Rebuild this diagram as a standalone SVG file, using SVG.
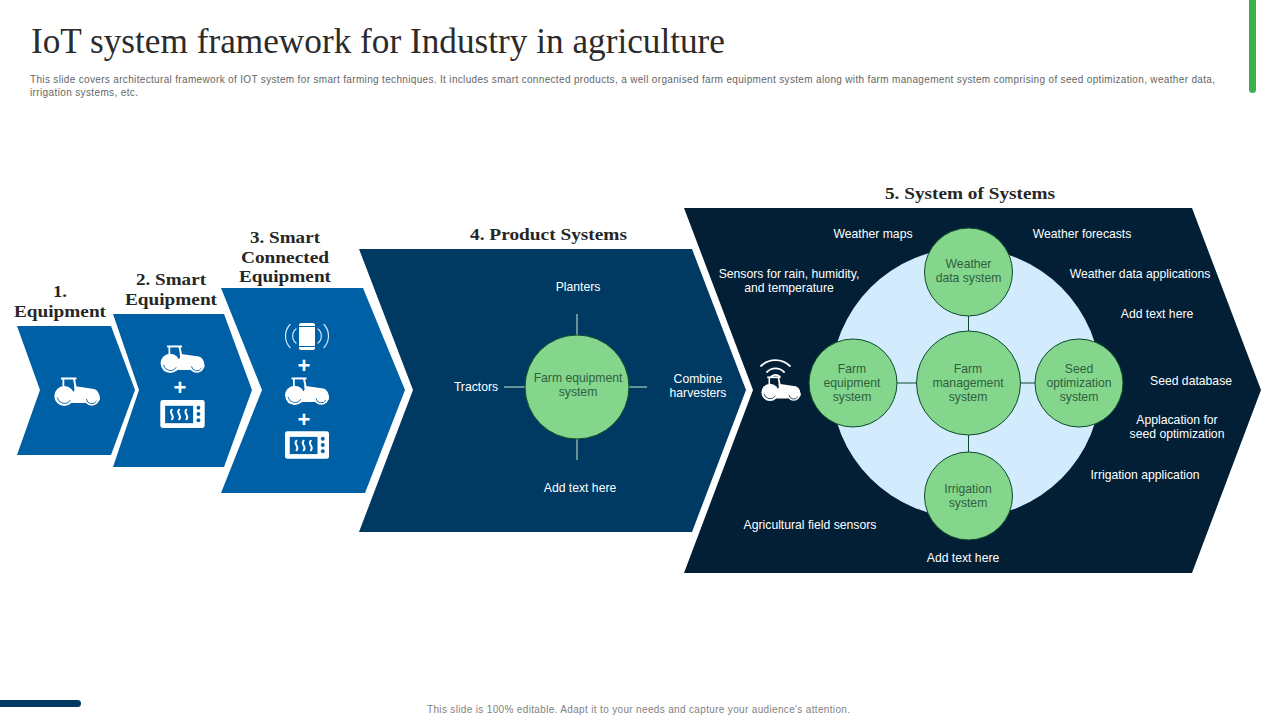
<svg xmlns="http://www.w3.org/2000/svg" width="1280" height="720" viewBox="0 0 1280 720">
<style>
text{font-family:"Liberation Sans",Arial,sans-serif}
.title{font-family:"Liberation Serif","Times New Roman",serif;font-size:35px;fill:#2b2b2b}
.desc{font-size:10px;fill:#666}
.foot{font-size:10px;fill:#7f7f7f}
.head{font-family:"Liberation Serif","Times New Roman",serif;font-weight:700;font-size:16.500px;fill:#262626}
.lab{font-size:12.200px;fill:#fff;text-anchor:middle}
.cl{font-size:12.200px;fill:#2F5F3E;text-anchor:middle}
.plus{font-size:22px;font-weight:700;fill:#fff;text-anchor:middle}
.gc{fill:#84D68C;stroke:#0B4A2A;stroke-width:1}
.dl{stroke:#0B4A2A;stroke-width:1;fill:none}
.wl{stroke:#C8EBCB;stroke-width:1;fill:none}
.arc{fill:none;stroke:#fff;stroke-width:1.800;stroke-linecap:round}
.parc{fill:none;stroke:#CFE9FB;stroke-width:1.200;stroke-linecap:round}
</style>
<defs>
<symbol id="tractor" viewBox="0 0 46 29" overflow="visible">
<rect x="7" y="0.500" width="15.500" height="2" fill="#fff"/>
<rect x="8.500" y="2" width="1.800" height="9" fill="#fff"/>
<path fill="#fff" d="M19 2H21L22.500 9.500L20.500 10Z"/>
<path fill="#fff" d="M20 9L40 12Q44 13 45 18L46 23L30 26H12V13L16.500 12.500L18.500 16L20.500 13Z"/>
<circle cx="10.300" cy="19" r="10" fill="#fff"/>
<circle cx="37.700" cy="20.700" r="8" fill="#fff"/>
<path d="M3.300 20.500A7.200 7.200 0 0 0 16.500 23" fill="none" stroke="currentColor" stroke-width="0.900"/>
<path d="M32.300 22A5.500 5.500 0 0 0 42.500 24" fill="none" stroke="currentColor" stroke-width="0.900"/>
</symbol>
<symbol id="oven" viewBox="0 0 46 29" overflow="visible">
<rect width="46" height="29" rx="2.500" fill="#fff"/>
<rect x="5" y="6" width="29" height="18" fill="currentColor"/>
<path d="M12 10q-2 2 0 5t0 5M19.500 10q-2 2 0 5t0 5M27 10q-2 2 0 5t0 5" fill="none" stroke="#fff" stroke-width="2" stroke-linecap="round"/>
<circle cx="39.500" cy="8" r="2" fill="currentColor"/><circle cx="39.500" cy="14.500" r="2" fill="currentColor"/><circle cx="39.500" cy="21" r="2" fill="currentColor"/>
</symbol>
</defs>

<text class="title" x="31" y="53" textLength="694" lengthAdjust="spacingAndGlyphs">IoT system framework for Industry in agriculture</text>
<text class="desc" x="30" y="83" textLength="1185" lengthAdjust="spacing">This slide covers architectural framework of IOT system for smart farming techniques. It includes smart connected products, a well organised farm equipment system along with farm management system comprising of seed optimization,  weather data,</text>
<text class="desc" x="30" y="96" textLength="108" lengthAdjust="spacing">irrigation systems, etc.</text>
<rect id="accent-top" x="1249" y="-8" width="7" height="101" rx="3.500" fill="#3CB04C"/>
<rect id="accent-bottom" x="-8" y="700" width="89" height="7" rx="3.500" fill="#003A63"/>
<text class="foot" x="427" y="713" textLength="423" lengthAdjust="spacing">This slide is 100% editable.  Adapt it to your needs and capture your audience's attention.</text>

<g id="stage-5" color="#021F36">
<polygon points="684,208 1192,208 1261,390 1192,573 684,573 753,390" fill="#021F36"/>
<text class="head" x="885" y="199" textLength="170" lengthAdjust="spacingAndGlyphs">5. System of Systems</text>
<circle cx="966" cy="383" r="135" fill="#D2EBFD"/>
<g id="s5-icon">
<use href="#tractor" x="761" y="376" width="40" height="25"/>
<path class="arc" d="M761 366A21 21 0 0 1 790 366M767 372A12 12 0 0 1 784 372M771.500 376.500A6 6 0 0 1 779.500 376.500"/>
</g>
<text class="lab"><tspan x="873" y="238">Weather maps</tspan></text>
<text class="lab"><tspan x="1082" y="238">Weather forecasts</tspan></text>
<text class="lab"><tspan x="789" y="278">Sensors for rain, humidity,</tspan><tspan x="789" y="292">and temperature</tspan></text>
<text class="lab"><tspan x="1140" y="278">Weather data applications</tspan></text>
<text class="lab"><tspan x="1157" y="318">Add text here</tspan></text>
<text class="lab"><tspan x="1191" y="385">Seed database</tspan></text>
<text class="lab"><tspan x="1177" y="424">Applacation for</tspan><tspan x="1177" y="438">seed optimization</tspan></text>
<text class="lab"><tspan x="1145" y="479">Irrigation application</tspan></text>
<text class="lab"><tspan x="810" y="529">Agricultural field sensors</tspan></text>
<text class="lab"><tspan x="963" y="562">Add text here</tspan></text>
</g>

<g id="stage-1" color="#0060A6">
<polygon points="17,326 111,326 135,390 111,455 17,455 40,390" fill="#0060A6"/>
<text class="head" x="53" y="297" textLength="14" lengthAdjust="spacingAndGlyphs">1.</text>
<text class="head" x="14" y="317" textLength="92" lengthAdjust="spacingAndGlyphs">Equipment</text>
<use href="#tractor" x="54" y="377" width="46" height="29"/>
</g>
<g id="stage-2" color="#0060A6">
<polygon points="113,314 224,314 252,390 224,467 113,467 139,390" fill="#0060A6"/>
<text class="head" x="136" y="285" textLength="70" lengthAdjust="spacingAndGlyphs">2. Smart</text>
<text class="head" x="125" y="305" textLength="92" lengthAdjust="spacingAndGlyphs">Equipment</text>
<use href="#tractor" x="159" y="345" width="47" height="28"/>
<text class="plus" x="180" y="395">+</text>
<use href="#oven" x="160" y="400" width="45" height="28"/>
</g>
<g id="stage-3" color="#0060A6">
<polygon points="221,288 363,288 405,390 365,493 221,493 262,390" fill="#0060A6"/>
<text class="head" x="250" y="243" textLength="70" lengthAdjust="spacingAndGlyphs">3. Smart</text>
<text class="head" x="241" y="263" textLength="88" lengthAdjust="spacingAndGlyphs">Connected</text>
<text class="head" x="239" y="282" textLength="92" lengthAdjust="spacingAndGlyphs">Equipment</text>
<g id="phone">
<rect x="299" y="323" width="16" height="27" rx="2" fill="#fff"/>
<path d="M299 326.500H315M299 346.500H315" stroke="#0060A6" stroke-width="1"/>
<path class="parc" d="M296 329A9 9 0 0 0 296 343M290 324.500A17 17 0 0 0 290 347.500M318 329A9 9 0 0 1 318 343M324 324.500A17 17 0 0 1 324 347.500"/>
</g>
<text class="plus" x="304" y="373">+</text>
<use href="#tractor" x="284" y="377" width="46" height="28"/>
<text class="plus" x="304" y="427">+</text>
<use href="#oven" x="285" y="431" width="44" height="28"/>
</g>
<g id="stage-4">
<polygon points="359,249 692,249 746,390 692,532 359,532 413,390" fill="#003A63"/>
<text class="head" x="470" y="240" textLength="157" lengthAdjust="spacingAndGlyphs">4. Product Systems</text>
<text class="lab" x="578" y="291">Planters</text>
<text class="lab" x="476" y="391">Tractors</text>
<text class="lab"><tspan x="698" y="383">Combine</tspan><tspan x="698" y="397">harvesters</tspan></text>
<text class="lab" x="580" y="492">Add text here</text>
</g>

<g id="connectors">
<path class="wl" d="M577 314V335M577 439V460M504 387H525M629 387H647"/>
<path class="dl" d="M968.500 316V331M968.500 435V452M897 383H917M1020 383H1035"/>
</g>

<g id="n-farm-equipment-4"><circle class="gc" cx="577" cy="387" r="52"/><text class="cl"><tspan x="578" y="382">Farm equipment</tspan><tspan x="578" y="396">system</tspan></text></g>
<g id="n-weather"><circle class="gc" cx="968.500" cy="272" r="44"/><text class="cl"><tspan x="968.500" y="268">Weather</tspan><tspan x="968.500" y="282">data system</tspan></text></g>
<g id="n-irrigation"><circle class="gc" cx="968.500" cy="496" r="44"/><text class="cl"><tspan x="968" y="493">Irrigation</tspan><tspan x="968" y="507">system</tspan></text></g>
<g id="n-farm-equipment-5"><circle class="gc" cx="853" cy="383" r="44"/><text class="cl"><tspan x="852" y="373">Farm</tspan><tspan x="852" y="387">equipment</tspan><tspan x="852" y="401">system</tspan></text></g>
<g id="n-seed"><circle class="gc" cx="1079" cy="383" r="44"/><text class="cl"><tspan x="1079" y="373">Seed</tspan><tspan x="1079" y="387">optimization</tspan><tspan x="1079" y="401">system</tspan></text></g>
<g id="n-management"><circle class="gc" cx="968.500" cy="383" r="52"/><text class="cl"><tspan x="968" y="373">Farm</tspan><tspan x="968" y="387">management</tspan><tspan x="968" y="401">system</tspan></text></g>
</svg>
